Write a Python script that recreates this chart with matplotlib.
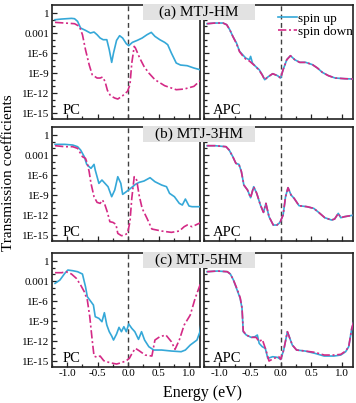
import matplotlib
matplotlib.use("Agg")
import matplotlib.pyplot as plt
import numpy as np
from matplotlib.patches import Rectangle
from matplotlib.ticker import FixedLocator, NullFormatter

plt.rcParams['font.family'] = ['Liberation Serif', 'DejaVu Serif']

# ---------------- data (log10 of transmission) ----------------
# (a) MTJ-HM, PC
a_pc_up_E = [-1.2, -1.09, -0.93, -0.88, -0.83, -0.78, -0.70, -0.62, -0.56, -0.51, -0.46, -0.41, -0.35, -0.31,
             -0.27, -0.24, -0.19, -0.14, -0.09, -0.03, 0.01, 0.07, 0.15, 0.23, 0.31, 0.38, 0.44, 0.52, 0.60,
             0.65, 0.71, 0.79, 0.86, 0.97, 1.08, 1.2]
a_pc_up_T = [-1.0, -0.9, -0.8, -0.85, -1.25, -2.25, -2.6, -3.0, -2.85, -3.25, -3.75, -4.0, -4.0, -5.5,
             -7.4, -6.0, -4.1, -3.4, -3.75, -4.6, -4.9, -4.4, -4.1, -3.75, -3.25, -2.9, -3.5, -4.0, -4.4,
             -4.75, -6.0, -7.5, -7.8, -7.9, -8.25, -8.55]
a_pc_dn_E = [-1.2, -1.04, -0.88, -0.80, -0.75, -0.70, -0.64, -0.59, -0.51, -0.46, -0.42, -0.38, -0.34, -0.29,
             -0.22, -0.17, -0.09, -0.01, 0.03, 0.06, 0.10, 0.12, 0.19, 0.26, 0.34, 0.44, 0.60, 0.79, 0.92,
             1.08, 1.2]
a_pc_dn_T = [-1.4, -1.5, -1.6, -2.0, -3.25, -5.5, -7.75, -9.25, -9.75, -9.75, -9.6, -10.25, -11.6, -12.4,
             -12.75, -12.9, -12.4, -11.75, -10.75, -7.5, -5.0, -5.25, -6.75, -8.0, -9.0, -10.0, -10.9, -11.5,
             -11.4, -11.0, -10.0]
# (a) MTJ-HM, APC
a_apc_up_E = [-1.2, -1.07, -0.94, -0.88, -0.83, -0.78, -0.72, -0.67, -0.62, -0.57, -0.51, -0.49, -0.46, -0.41,
              -0.35, -0.30, -0.26, -0.21, -0.13, -0.05, 0.0, 0.04, 0.10, 0.16, 0.23, 0.31, 0.41, 0.52, 0.60,
              0.68, 0.78, 0.89, 1.05, 1.2]
a_apc_up_T = [-1.6, -1.5, -1.5, -1.75, -2.5, -3.5, -4.5, -5.75, -6.25, -6.75, -7.0, -6.5, -7.5, -8.0,
              -8.5, -9.25, -10.0, -9.6, -9.1, -9.4, -9.75, -8.5, -7.0, -6.4, -7.0, -7.4, -7.4, -7.75, -8.25,
              -8.9, -9.4, -9.75, -9.85, -9.9]
a_apc_dn_E = [-1.2, -1.07, -0.94, -0.88, -0.83, -0.78, -0.72, -0.67, -0.62, -0.57, -0.51, -0.46, -0.41,
              -0.35, -0.30, -0.26, -0.21, -0.13, -0.05, 0.0, 0.04, 0.10, 0.16, 0.23, 0.31, 0.41, 0.52, 0.60,
              0.68, 0.78, 0.89, 1.05, 1.2]
a_apc_dn_T = [-1.6, -1.5, -1.5, -1.75, -2.5, -3.5, -4.6, -5.8, -6.4, -6.9, -7.2, -7.6, -8.0,
              -8.6, -9.3, -10.0, -9.6, -9.1, -9.4, -9.75, -8.5, -7.0, -6.4, -7.0, -7.4, -7.4, -7.75, -8.25,
              -8.9, -9.4, -9.75, -9.85, -9.9]

# (b) MTJ-3HM, PC
b_pc_up_E = [-1.2, -1.04, -0.91, -0.83, -0.78, -0.72, -0.68, -0.64, -0.61, -0.56, -0.54, -0.48, -0.43, -0.38,
             -0.33, -0.27, -0.22, -0.17, -0.12, -0.09, -0.03, 0.04, 0.12, 0.18, 0.26, 0.36, 0.44, 0.55, 0.63,
             0.68, 0.76, 0.84, 0.89, 0.94, 1.0, 1.05, 1.2]
b_pc_up_T = [-1.4, -1.4, -1.5, -1.75, -2.25, -3.25, -4.4, -4.75, -5.0, -4.4, -5.25, -7.25, -6.75, -7.25,
             -7.75, -9.25, -8.25, -6.25, -7.25, -8.9, -8.5, -8.0, -7.4, -7.1, -6.9, -6.4, -7.0, -7.5, -7.75,
             -8.75, -9.25, -10.25, -10.5, -9.6, -10.65, -10.75, -10.75]
b_pc_dn_E = [-1.2, -1.04, -0.91, -0.83, -0.75, -0.70, -0.67, -0.64, -0.61, -0.56, -0.51, -0.46, -0.42, -0.38,
             -0.34, -0.30, -0.25, -0.20, -0.17, -0.11, -0.06, -0.01, 0.03, 0.06, 0.10, 0.14, 0.18, 0.23,
             0.31, 0.39, 0.55, 0.71, 0.84, 0.92, 0.97, 1.05, 1.2]
b_pc_dn_T = [-1.6, -1.75, -1.75, -2.0, -3.25, -3.5, -4.25, -5.5, -7.25, -9.25, -10.1, -10.25, -9.75, -10.5,
             -11.6, -13.0, -13.1, -13.4, -14.75, -15.1, -15.0, -14.75, -13.0, -9.5, -6.25, -6.75, -9.0, -11.0,
             -12.5, -14.1, -14.4, -14.6, -14.4, -13.75, -13.5, -13.75, -13.1]
# (b) MTJ-3HM, APC
b_apc_E = [-1.2, -1.07, -0.89, -0.84, -0.78, -0.73, -0.68, -0.64, -0.60, -0.54, -0.49, -0.44, -0.39, -0.33,
           -0.28, -0.24, -0.19, -0.12, -0.06, -0.01, 0.04, 0.08, 0.12, 0.17, 0.22, 0.30, 0.43, 0.54, 0.62,
           0.72, 0.83, 0.88, 0.94, 0.98, 1.04, 1.2]
b_apc_up_T = [-1.6, -1.6, -1.75, -2.25, -3.25, -4.25, -4.4, -5.5, -7.5, -8.25, -9.4, -7.75, -8.75, -10.5,
              -11.6, -10.25, -12.25, -13.5, -13.5, -13.1, -12.0, -9.25, -7.9, -9.0, -9.5, -10.6, -10.75, -11.0,
              -11.6, -12.4, -12.75, -12.6, -11.75, -12.4, -12.25, -12.0]
b_apc_dn_T = [-1.6, -1.6, -1.75, -2.25, -3.25, -4.25, -4.4, -5.5, -7.5, -8.25, -9.4, -7.75, -8.75, -10.5,
              -11.6, -10.25, -12.25, -13.5, -13.5, -13.1, -12.0, -9.25, -7.9, -9.0, -9.5, -10.6, -10.75, -11.0,
              -11.6, -12.4, -12.75, -12.6, -11.75, -12.4, -12.25, -12.0]

# (c) MTJ-5HM, PC
c_pc_up_E = [-1.2, -1.12, -1.04, -0.99, -0.91, -0.83, -0.75, -0.70, -0.67, -0.63, -0.57, -0.54, -0.48, -0.43,
             -0.39, -0.35, -0.31, -0.27, -0.24, -0.19, -0.15, -0.11, -0.07, -0.03, 0.01, 0.06, 0.11, 0.17,
             0.22, 0.27, 0.34, 0.42, 0.55, 0.71, 0.87, 0.94, 1.02, 1.13, 1.18, 1.21]
c_pc_up_T = [-3.35, -2.85, -1.85, -1.35, -1.45, -1.6, -1.95, -3.85, -5.35, -5.85, -6.6, -8.35, -8.6, -9.1,
             -7.75, -9.6, -10.6, -11.25, -11.85, -10.95, -9.95, -10.6, -9.85, -10.6, -9.45, -10.1, -10.6, -11.75,
             -10.6, -11.85, -12.85, -13.35, -13.35, -13.5, -13.6, -13.35, -12.6, -11.85, -10.6, -8.35]
c_pc_dn_E = [-1.2, -1.09, -1.02, -0.93, -0.85, -0.78, -0.72, -0.67, -0.63, -0.59, -0.56, -0.51, -0.46, -0.40,
             -0.30, -0.19, -0.11, -0.03, 0.02, 0.07, 0.12, 0.18, 0.28, 0.39, 0.44, 0.52, 0.62, 0.71, 0.77,
             0.84, 0.92, 1.02, 1.10, 1.2]
c_pc_dn_T = [-1.75, -1.75, -1.6, -1.95, -2.6, -3.6, -4.6, -5.85, -8.35, -11.85, -14.25, -14.45, -14.25, -14.95,
             -15.25, -15.45, -15.25, -14.95, -14.6, -13.75, -13.1, -13.45, -14.1, -14.25, -11.85, -11.35, -11.1,
             -12.1, -13.25, -11.85, -9.6, -8.1, -5.6, -3.1]
# (c) MTJ-5HM, APC
c_apc_up_E = [-1.2, -1.03, -0.87, -0.82, -0.77, -0.71, -0.66, -0.63, -0.61, -0.56, -0.48, -0.42, -0.38, -0.35,
              -0.30, -0.25, -0.21, -0.13, -0.05, 0.0, 0.05, 0.11, 0.14, 0.19, 0.26, 0.40, 0.56, 0.71, 0.87,
              0.98, 1.06, 1.11, 1.16, 1.20]
c_apc_up_T = [-1.6, -1.5, -1.6, -1.95, -2.85, -4.35, -5.6, -7.1, -10.6, -11.1, -11.45, -11.35, -11.1, -12.35,
              -12.85, -13.1, -14.6, -14.35, -14.45, -14.75, -13.35, -10.6, -11.35, -12.6, -13.35, -13.5, -13.85,
              -14.25, -14.25, -14.1, -13.6, -12.85, -10.1, -8.85]
c_apc_dn_E = [-1.2, -1.03, -0.87, -0.82, -0.77, -0.71, -0.66, -0.63, -0.61, -0.56, -0.48, -0.40, -0.35, -0.30,
              -0.24, -0.19, -0.11, -0.03, 0.0, 0.05, 0.11, 0.14, 0.19, 0.26, 0.40, 0.56, 0.71, 0.87,
              0.98, 1.06, 1.11, 1.16, 1.20]
c_apc_dn_T = [-1.6, -1.5, -1.6, -1.95, -2.85, -4.2, -5.5, -7.0, -10.5, -11.1, -11.45, -11.45, -12.1, -11.75,
              -13.35, -15.0, -14.6, -14.35, -14.75, -13.35, -10.6, -11.35, -12.6, -13.35, -13.5, -13.7,
              -14.1, -14.1, -14.0, -13.5, -12.85, -10.1, -8.85]

titles = ['(a) MTJ-HM', '(b) MTJ-3HM', '(c) MTJ-5HM']
panel_labels = ['PC', 'APC']
legend_labels = ['spin up', 'spin down']
ytick_vals = [0, -3, -6, -9, -12, -15]
ytick_labels = ['1', '0.001', '1E-6', '1E-9', '1E-12', '1E-15']
xtick_vals = [-1.0, -0.5, 0.0, 0.5, 1.0]
xtick_labels = ['-1.0', '-0.5', '0.0', '0.5', '1.0']

data = [
    [(a_pc_up_E, a_pc_up_T, a_pc_dn_E, a_pc_dn_T), (a_apc_up_E, a_apc_up_T, a_apc_dn_E, a_apc_dn_T)],
    [(b_pc_up_E, b_pc_up_T, b_pc_dn_E, b_pc_dn_T), (b_apc_E, b_apc_up_T, b_apc_E, b_apc_dn_T)],
    [(c_pc_up_E, c_pc_up_T, c_pc_dn_E, c_pc_dn_T), (c_apc_up_E, c_apc_up_T, c_apc_dn_E, c_apc_dn_T)],
]

BLUE = '#35a8d8'
MAG = '#d42a86'

W, H = 356, 403
fig = plt.figure(figsize=(W / 100, H / 100), dpi=100)

col_x = [(52, 148), (204, 149)]
row_top = [4.7, 126.7, 252.7]
row_h = 114

for r in range(3):
    for c in range(2):
        x0, w = col_x[c]
        ax = fig.add_axes([x0 / W, 1 - (row_top[r] + row_h) / H, w / W, row_h / H])
        uE, uT, dE, dT = data[r][c]
        ax.plot(uE, 10 ** np.array(uT), color=BLUE, lw=1.2, solid_joinstyle='round', zorder=3)
        ax.plot(dE, 10 ** np.array(dT), color=MAG, lw=1.2, ls=(0, (5, 1.6, 1.2, 1.6)), zorder=4)
        ax.axvline(0, color='#404040', lw=1.0, ls=(0, (3.5, 2.5)), zorder=2)
        ax.set_yscale('log')
        ax.set_ylim(10 ** -15.85, 10 ** 1.25)
        ax.set_xlim(-1.18, 1.18)
        ax.yaxis.set_major_locator(FixedLocator([10.0 ** v for v in ytick_vals]))
        ax.yaxis.set_minor_locator(FixedLocator([10.0 ** v for v in range(-15, 1)]))
        ax.yaxis.set_minor_formatter(NullFormatter())
        ax.set_xticks(xtick_vals)
        ax.set_xticks([-1.25, -0.75, -0.25, 0.25, 0.75], minor=True)
        ax.tick_params(which='both', direction='in', top=False, right=False, labelsize=8, pad=2,
                       width=0.9, color='#222222')
        ax.tick_params(which='major', length=3.5)
        ax.tick_params(which='minor', length=2.5)
        if c == 0:
            ax.set_yticklabels(ytick_labels)
        else:
            ax.set_yticklabels([])
        if r == 2:
            ax.set_xticklabels(xtick_labels)
        else:
            ax.set_xticklabels([])
        for s in ax.spines.values():
            s.set_linewidth(1.2)
            s.set_color('#222222')
        ax.text(0.075 if c == 0 else 0.06, 0.04, panel_labels[c], transform=ax.transAxes,
                fontsize=10.5, ha='left', va='baseline')
        if r == 0 and c == 1:
            ax.legend([ax.lines[0], ax.lines[1]], legend_labels, loc='upper right',
                      bbox_to_anchor=(1.0, 0.93), frameon=False, fontsize=9.5,
                      handlelength=1.45, handletextpad=0.1, labelspacing=0.05, borderpad=0.0,
                      borderaxespad=0.0)

box_tops = [4.0, 126.0, 252.0]
for r in range(3):
    y0 = box_tops[r]
    rect = Rectangle((143 / W, 1 - (y0 + 16) / H), 112 / W, 16 / H, transform=fig.transFigure,
                     facecolor='#e2e2e2', edgecolor='none', zorder=5)
    fig.patches.append(rect)
    fig.text(199 / W, 1 - (y0 + 8.3) / H, titles[r], ha='center', va='center', fontsize=11, zorder=6)

fig.text(8.5 / W, 1 - 173 / H, 'Transmission coefficients', rotation=90, ha='center', va='center',
         fontsize=11)
fig.text(202 / W, 1 - 397 / H, 'Energy (eV)', ha='center', va='baseline', fontsize=11.5)

fig.savefig('out.png', dpi=100)
